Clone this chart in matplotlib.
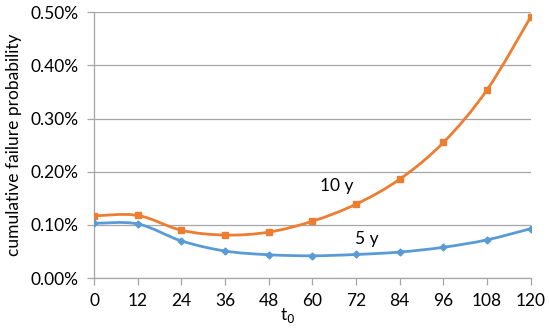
import numpy as np
import matplotlib.pyplot as plt
from matplotlib.path import Path
from matplotlib.patches import PathPatch
from matplotlib.ticker import PercentFormatter

plt.rcParams['font.family'] = ['Lato', 'DejaVu Sans']

# start time t0 (months)
t0 = [0, 12, 24, 36, 48, 60, 72, 84, 96, 108, 120]
# cumulative failure probability (fraction)
p10y = [0.00117, 0.00118, 0.00090, 0.00081, 0.000865, 0.00107, 0.00139, 0.00186, 0.00255, 0.00354, 0.00491]
p5y = [0.00103, 0.00102, 0.00070, 0.00051, 0.00044, 0.00042, 0.000445, 0.00049, 0.00058, 0.00072, 0.00093]

orange = "#ED7D31"
blue = "#5B9BD5"
grey = "#A6A6A6"


def smooth_path(x, y):
    # Excel-like smoothed line: cubic bezier through each pair of points
    pts = np.column_stack([x, y]).astype(float)
    n = len(pts)
    verts = [pts[0]]
    codes = [Path.MOVETO]
    for i in range(n - 1):
        p0 = pts[i - 1] if i > 0 else pts[i]
        p1 = pts[i]
        p2 = pts[i + 1]
        p3 = pts[i + 2] if i + 2 < n else pts[i + 1]
        c1 = p1 + (p2 - p0) / 6.0
        c2 = p2 - (p3 - p1) / 6.0
        verts += [c1, c2, p2]
        codes += [Path.CURVE4] * 3
    return Path(verts, codes)


fig = plt.figure(figsize=(5.5, 3.28), dpi=100)
ax = fig.add_axes([0.171, 0.152, 0.794, 0.811])

for ys, col, mk, ms in [(p10y, orange, "s", 4.5), (p5y, blue, "D", 3.5)]:
    ax.add_patch(PathPatch(smooth_path(t0, ys), fill=False, edgecolor=col, lw=2.0, zorder=3))
    ax.plot(t0, ys, linestyle="none", marker=mk, color=col, markersize=ms, zorder=4)

ax.set_xlim(0, 120)
ax.set_ylim(0, 0.005)
ax.set_xticks(t0)
ax.set_yticks(np.arange(0, 0.0051, 0.001))
ax.yaxis.set_major_formatter(PercentFormatter(1.0, decimals=2))

ax.grid(axis="y", color=grey, lw=0.9)
ax.set_axisbelow(True)
for s in ["top", "right"]:
    ax.spines[s].set_visible(False)
for s in ["left", "bottom"]:
    ax.spines[s].set_color(grey)
    ax.spines[s].set_linewidth(0.9)
ax.tick_params(axis="both", colors=grey, labelcolor="black", labelsize=12.5, length=5, width=0.9)
ax.tick_params(axis="x", pad=6)
ax.tick_params(axis="y", pad=6)

ax.set_ylabel("cumulative failure probability", fontsize=12.5, labelpad=6)
ax.text(53.3, -0.00071, "t$_0$", fontsize=12.5, ha="center", va="center")

ax.text(66.7, 0.00173, "10 y", fontsize=12.5, ha="center", va="center")
ax.text(75, 0.00073, "5 y", fontsize=12.5, ha="center", va="center")

plt.savefig("out.png", dpi=100)
